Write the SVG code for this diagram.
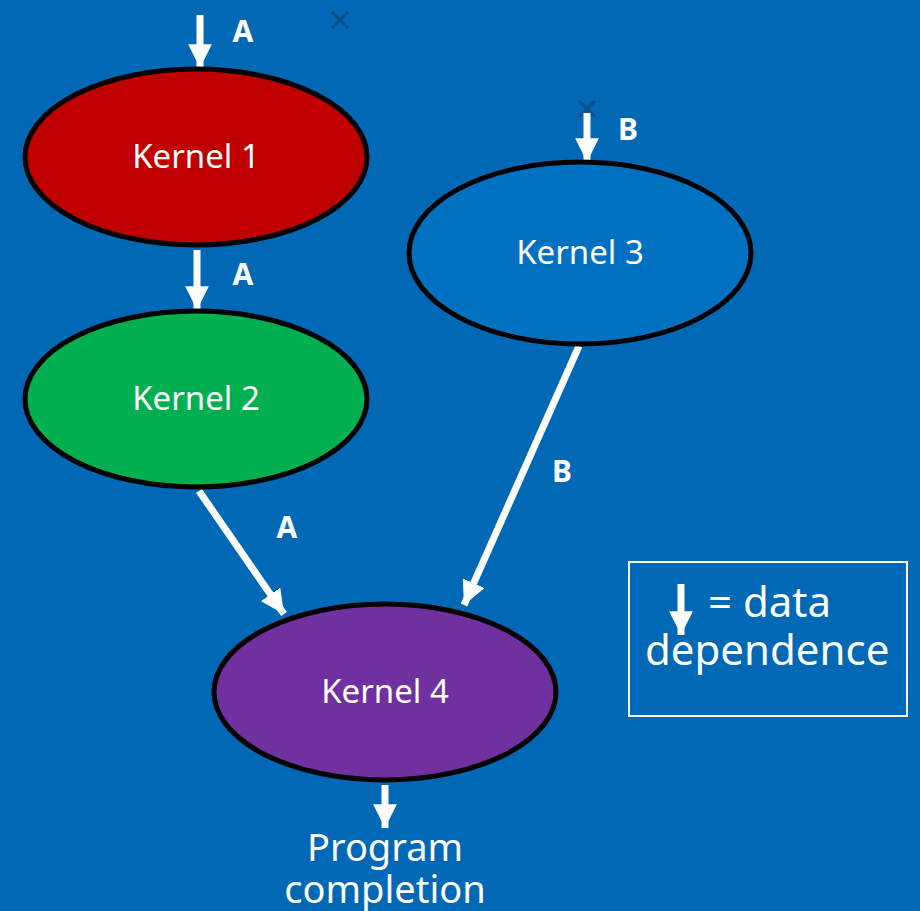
<svg xmlns="http://www.w3.org/2000/svg" width="920" height="911" viewBox="0 0 920 911">
<defs>
<marker id="ah" viewBox="0 0 10 10" refX="10" refY="5" markerWidth="3.4" markerHeight="3.4" markerUnits="strokeWidth" orient="auto">
<path d="M0,0 L10,5 L0,10 Z" fill="#fff"/>
</marker>
</defs>
<style>
.k{stroke:#000;stroke-width:5}
.kt{font-family:"Noto Sans","Open Sans",sans-serif;font-size:33px;fill:#fff;text-anchor:middle}
.lb{font-family:"Noto Sans","Open Sans",sans-serif;font-size:30px;font-weight:bold;fill:#fff;text-anchor:middle}
.big{font-family:"Noto Sans","Open Sans",sans-serif;font-size:42px;fill:#fff}
.pc{font-family:"Noto Sans","Open Sans",sans-serif;font-size:38px;fill:#fff;text-anchor:middle}
.e{stroke:#fff;stroke-width:7;fill:none;marker-end:url(#ah)}
.x{stroke:#0B4F86;stroke-width:3}
</style>
<rect width="920" height="911" fill="#0068B5"/>
<g id="marks">
<path class="x" d="M332,12 L348,28 M348,12 L332,28"/>
<path class="x" d="M579,101 L595,117 M595,101 L579,117"/>
</g>
<g id="connectors">
<line class="e" x1="200" y1="15" x2="200" y2="68"/>
<line class="e" x1="197" y1="250" x2="197" y2="310"/>
<line class="e" x1="587" y1="113" x2="587" y2="162"/>
<line class="e" x1="199" y1="491" x2="284" y2="614"/>
<line class="e" x1="579" y1="346" x2="464" y2="605"/>
<line class="e" x1="385" y1="785" x2="385" y2="828"/>
<text class="lb" x="243" y="42">A</text>
<text class="lb" x="628" y="140">B</text>
<text class="lb" x="243" y="285">A</text>
<text class="lb" x="562" y="482">B</text>
<text class="lb" x="287" y="538">A</text>
</g>
<g id="kernel1">
<ellipse class="k" cx="196" cy="157" rx="171" ry="88" fill="#C00000"/>
<text class="kt" x="196" y="168">Kernel 1</text>
</g>
<g id="kernel2">
<ellipse class="k" cx="196" cy="399" rx="171" ry="88" fill="#00B050"/>
<text class="kt" x="196" y="410">Kernel 2</text>
</g>
<g id="kernel3">
<ellipse class="k" cx="580" cy="253" rx="171" ry="91" fill="#0070C0"/>
<text class="kt" x="580" y="264">Kernel 3</text>
</g>
<g id="kernel4">
<ellipse class="k" cx="385" cy="692" rx="171" ry="88" fill="#7030A0"/>
<text class="kt" x="385" y="703">Kernel 4</text>
</g>
<g id="completion">
<text class="pc" x="385" y="861">Program</text>
<text class="pc" x="385" y="903">completion</text>
</g>
<g id="legend">
<rect x="629" y="562" width="278" height="154" fill="none" stroke="#fff" stroke-width="2"/>
<line class="e" x1="681" y1="584" x2="681" y2="635"/>
<text class="big" x="708" y="617">= data</text>
<text class="big" x="645" y="665">dependence</text>
</g>
</svg>
